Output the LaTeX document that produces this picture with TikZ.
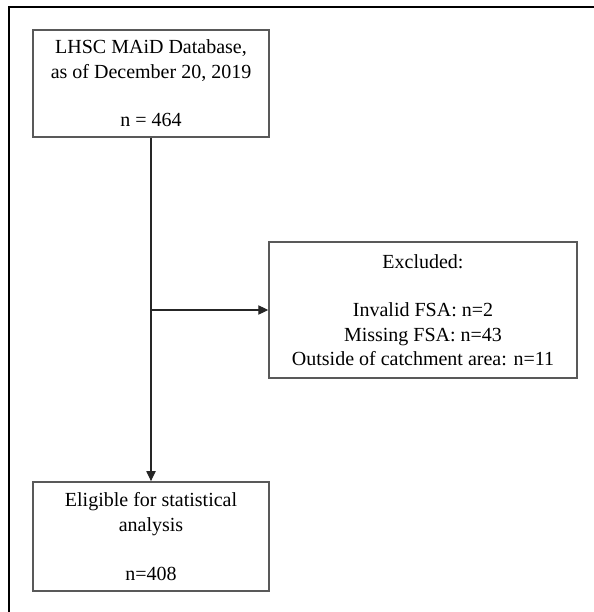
\documentclass[tikz,border=0pt]{standalone}
\usepackage{fontspec}
\setmainfont{Liberation Serif}
\usetikzlibrary{arrows.meta}
\tikzset{
  box/.style={draw=black!65, line width=1.1pt, align=center, inner sep=0pt,
    font=\fontsize{15}{18.3}\selectfont},
  link/.style={draw=black!85, line width=0.8pt},
  tip/.style={-{Triangle[length=7.5pt,width=7pt]}}
}
\begin{document}
\begin{tikzpicture}[x=0.75pt,y=-0.75pt]
  \useasboundingbox (0,0) rectangle (594,612);
  \draw[line width=2pt] (8,7) -- (594,7);
  \draw[line width=2pt] (9,6) -- (9,612);
  \draw
    (151,83.5) node[box, minimum width=177pt, minimum height=80pt] (db)
      {LHSC MAiD Database,\\as of December 20, 2019\\[18.3pt]n = 464}
    (423,310) node[box, minimum width=231pt, minimum height=102pt] (excl)
      {Excluded:\\[18.3pt]Invalid FSA: n=2\\Missing FSA: n=43\\Outside of catchment area: n=11}
    (151,536.5) node[box, minimum width=177pt, minimum height=82pt] (elig)
      {Eligible for statistical\\analysis\\[18.3pt]n=408};
  \coordinate (split) at (db.south |- excl.west);
  \begin{scope}[link]
    \draw[tip] (db) to (elig);
    \draw[tip] (split) to (excl);
  \end{scope}
\end{tikzpicture}
\end{document}
